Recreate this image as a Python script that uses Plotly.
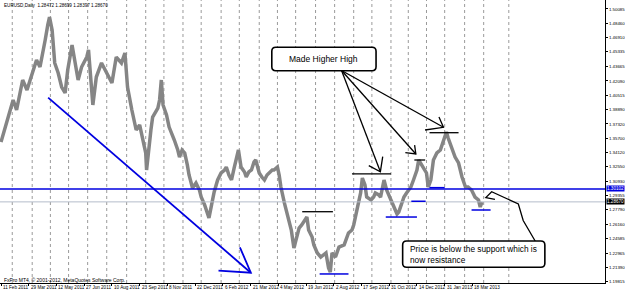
import plotly.graph_objects as go

# ---------------- data (bar index = trading days since 11 Feb 2011) ----------------
bars = [0,5,10,14,18,22,25,30,33,37,41,45,48,51,54,56,59,62,66,70,74,77,82,85,89,93,99,101,104,106,
        110,116,122,128,133,139,143,146,151,154,156,160,162,164,167,168,170,173,175,178,181,183,185,187,
        191,194,198,200,204,206,209,212,215,217,221,223,225,229,231,235,237,240,243,246,250,254,258,260,
        263,266,269,271,274,277,281,283,286,289,292,294,298,301,304,307,309,313,315,319,321,323,327,330,
        332,335,338,340,344,347,351,353,355,359,361,365,369,373,375,378,380,382,386,390,396,401,405,407,
        411,415,417,420,422,427,430,432,436,438,442,445,450,453,457,459,461,465,468,470,473,476,480,482,
        484,488,491,493,496,499,503,507,511,513,514,516,520,524,528,532,536,539,543,547,551,553,555]
closes = [1.3532,1.3698,1.3854,1.3998,1.3887,1.4054,1.4220,1.4109,1.4198,1.4298,1.4442,1.4364,1.4498,
          1.4664,1.4831,1.4919,1.4775,1.4409,1.4298,1.4142,1.4076,1.4331,1.4609,1.4442,1.4220,1.4364,
          1.4475,1.4553,1.4220,1.3943,1.4253,1.4409,1.4298,1.4187,1.4475,1.4409,1.4520,1.4142,1.3887,
          1.3721,1.3665,1.3721,1.3632,1.3554,1.3410,1.3221,1.3443,1.3665,1.3809,1.3854,1.3909,1.3998,
          1.4220,1.3943,1.3832,1.3698,1.3610,1.3554,1.3443,1.3365,1.3443,1.3410,1.3277,1.3166,1.3021,
          1.3055,1.3077,1.2999,1.2921,1.2833,1.2777,1.2688,1.2833,1.2977,1.3110,1.3188,1.3221,1.3254,
          1.3166,1.3110,1.3243,1.3332,1.3443,1.3254,1.3199,1.3143,1.3199,1.3221,1.3310,1.3332,1.3188,
          1.3143,1.3110,1.3166,1.3188,1.3221,1.3221,1.3254,1.3166,1.3032,1.2855,1.2744,1.2644,1.2555,
          1.2355,1.2444,1.2577,1.2611,1.2666,1.2699,1.2555,1.2477,1.2389,1.2300,1.2255,1.2278,1.2300,
          1.2133,1.2089,1.2300,1.2255,1.2366,1.2389,1.2522,1.2555,1.2611,1.2810,1.2966,1.3132,1.3055,
          1.2921,1.2888,1.2921,1.2966,1.2944,1.2921,1.3110,1.2999,1.2888,1.2810,1.2733,1.2755,1.2810,
          1.2921,1.2966,1.2999,1.3032,1.3110,1.3221,1.3332,1.3299,1.3221,1.3188,1.3032,1.3110,1.3332,
          1.3410,1.3443,1.3554,1.3632,1.3643,1.3576,1.3476,1.3365,1.3299,1.3143,1.3032,1.3032,1.2999,
          1.2921,1.2888,1.2810,1.2866]

date_tick_bars = [0,32,64,96,128,160,192,224,256,288,320,352,384,416,448,480,512,544]
date_tick_labels = ["11 Feb 2011","29 Mar 2011","12 May 2011","27 Jun 2011","10 Aug 2011",
                    "23 Sep 2011","8 Nov 2011","22 Dec 2011","6 Feb 2012","21 Mar 2012",
                    "4 May 2012","19 Jun 2012","2 Aug 2012","17 Sep 2012","31 Oct 2012",
                    "14 Dec 2012","31 Jan 2013","18 Mar 2013"]
month_grid_bars = [13,36,57,78,100,122,145,167,188,210,231,254,275,298,319,340,363,385,407,428,
                   450,470,491,512,535,557,586]
price_ticks = [1.50085,1.48460,1.46910,1.45335,1.43665,1.42090,1.40515,1.38890,1.37320,1.35700,
               1.34120,1.32550,1.30930,1.29355,1.27790,1.26160,1.24585,1.22965,1.21390,1.19815]

support_level = 1.30102
last_price = 1.28670
header = "EURUSD,Daily  1.28472 1.28699 1.28397 1.28670"
footer = "FxPro MT4, © 2001-2012, MetaQuotes Software Corp."

# drawn objects (bar index, price)
resistance_lines = [(347.6, 383, 1.2758), (405, 450, 1.3177), (477, 489.5, 1.3332), (494.5, 528, 1.3635)]
support_lines = [(367.7, 401, 1.2067), (444, 480, 1.2699), (473.5, 490, 1.2874), (494.5, 512, 1.3025), (543, 565, 1.2777)]
trend_arrow = [(54.4, 1.4024), (288.3, 1.2081)]
trend_head = [(275.7, 1.2363), (288.3, 1.2081), (251, 1.2103)]
hh_origin = (393, 1.4325)
hh_arrows = [
    [(437.8, 1.3202), (424.4, 1.3269), (440.5, 1.3369)],
    [(478.7, 1.3399), (466.6, 1.3413), (477.3, 1.3498)],
    [(510.6, 1.3695), (489.3, 1.3665), (505.4, 1.3809)],
]
hh_box = (312.5, 432.8, 1.4323, 1.4583)
hh_text = "Made Higher High"
pb_box = (463.5, 627.6, 1.2141, 1.2433)
pb_text = "Price is below the support which is<br>now resistance"
pb_arrow = [(570, 1.2896), (559.5, 1.2914), (566.2, 1.2980), (597, 1.2844), (602.6, 1.2660), (616.4, 1.2433)]

X_RANGE = [-1.15, 697]
Y_RANGE = [1.19667, 1.5108]

BLUE = "#0000e0"
GRAY = "#858585"
FONT = "Liberation Sans"

fig = go.Figure()
fig.add_trace(go.Scatter(x=bars, y=closes, mode="lines",
                         line=dict(color=GRAY, width=3.5), hoverinfo="skip", showlegend=False))

shapes = []
for b in month_grid_bars:
    shapes.append(dict(type="line", xref="x", yref="paper", x0=b, x1=b, y0=0, y1=1, layer="below",
                       line=dict(color="#9a9a9a", width=1, dash="dot")))
shapes.append(dict(type="line", xref="paper", yref="y", x0=0, x1=1, y0=last_price, y1=last_price,
                   line=dict(color="#b4bccb", width=1)))
shapes.append(dict(type="line", xref="paper", yref="y", x0=0, x1=1, y0=support_level, y1=support_level,
                   line=dict(color=BLUE, width=1.3)))
for x0, x1, y in resistance_lines:
    shapes.append(dict(type="line", x0=x0, x1=x1, y0=y, y1=y, line=dict(color="black", width=1.3)))
for x0, x1, y in support_lines:
    shapes.append(dict(type="line", x0=x0, x1=x1, y0=y, y1=y, line=dict(color=BLUE, width=1.5)))


def poly(pts):
    return "M " + " L ".join(f"{x},{y}" for x, y in pts)


shapes.append(dict(type="path", path=poly(trend_arrow), line=dict(color=BLUE, width=1.8)))
shapes.append(dict(type="path", path=poly(trend_head), line=dict(color=BLUE, width=1.8)))
for tip, h1, h2 in hh_arrows:
    shapes.append(dict(type="path", path=poly([hh_origin, tip]), line=dict(color="black", width=1.3)))
    shapes.append(dict(type="path", path=poly([h1, tip, h2]), line=dict(color="black", width=1.3)))
shapes.append(dict(type="path", path=poly(pb_arrow), line=dict(color="black", width=1.3)))


def rrect(x0, x1, y0, y1, rx=4.6, ry=0.0044):
    return (f"M {x0+rx},{y1} L {x1-rx},{y1} Q {x1},{y1} {x1},{y1-ry} L {x1},{y0+ry} "
            f"Q {x1},{y0} {x1-rx},{y0} L {x0+rx},{y0} Q {x0},{y0} {x0},{y0+ry} "
            f"L {x0},{y1-ry} Q {x0},{y1} {x0+rx},{y1} Z")


for bx in (hh_box, pb_box):
    shapes.append(dict(type="path", path=rrect(*bx), fillcolor="white",
                       line=dict(color="black", width=1.6)))

ann = []
ann.append(dict(x=(hh_box[0] + hh_box[1]) / 2, y=(hh_box[2] + hh_box[3]) / 2, text=hh_text,
                showarrow=False, font=dict(family=FONT, size=8.5, color="black")))
ann.append(dict(x=pb_box[0] + 6, y=(pb_box[2] + pb_box[3]) / 2, text=pb_text, xanchor="left",
                align="left", showarrow=False, font=dict(family=FONT, size=8.3, color="black")))
ann.append(dict(xref="paper", yref="paper", x=0.003, y=0.997, xanchor="left", yanchor="top",
                text=header, showarrow=False, font=dict(family=FONT, size=4.6, color="black")))
ann.append(dict(xref="paper", yref="paper", x=0.003, y=(283 - 280) / 283, xanchor="left", yanchor="middle",
                text=footer, showarrow=False, font=dict(family=FONT, size=5, color="black")))
for b, lab in zip(date_tick_bars, date_tick_labels):
    ann.append(dict(x=b, xref="x", yref="paper", y=-4.3 / 283, xanchor="left", yanchor="middle",
                    xshift=0, text=lab, showarrow=False,
                    font=dict(family=FONT, size=4.6, color="black")))
ann.append(dict(xref="paper", x=1, yref="y", y=support_level, xanchor="left", xshift=1,
                text=f"{support_level:.5f}", showarrow=False, bgcolor=BLUE, borderpad=0,
                font=dict(family=FONT, size=4.6, color="white")))
ann.append(dict(xref="paper", x=1, yref="y", y=last_price, xanchor="left", xshift=1,
                text=f"{last_price:.5f}", showarrow=False, bgcolor="black", borderpad=0,
                font=dict(family=FONT, size=4.6, color="white")))

fig.update_layout(
    width=625, height=291, autosize=False,
    margin=dict(l=0, r=18, t=0, b=8),
    paper_bgcolor="white", plot_bgcolor="white",
    shapes=shapes, annotations=ann, showlegend=False,
    xaxis=dict(range=X_RANGE, showgrid=False, zeroline=False, showline=True, linecolor="black",
               linewidth=1, tickvals=date_tick_bars, ticks="outside", ticklen=2, tickcolor="black",
               showticklabels=False, fixedrange=True),
    yaxis=dict(range=Y_RANGE, side="right", showgrid=False, zeroline=False, showline=True,
               linecolor="black", linewidth=1, tickvals=price_ticks,
               ticktext=[f"{v:.5f}" for v in price_ticks], ticks="outside", ticklen=2,
               tickcolor="black", tickfont=dict(family=FONT, size=4.4, color="black"), fixedrange=True),
)

fig.write_html("out.html")
